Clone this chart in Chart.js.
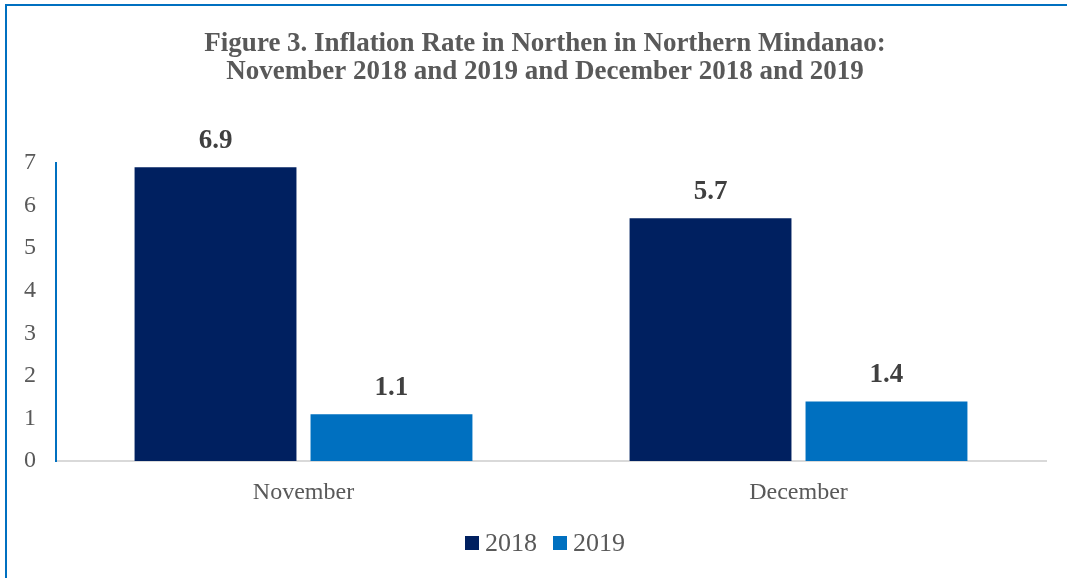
<!DOCTYPE html>
<html>
<head>
<meta charset="utf-8">
<script src="https://cdn.jsdelivr.net/npm/chart.js@4.4.1/dist/chart.umd.min.js"></script>
<style>
  html, body { margin: 0; padding: 0; background: #ffffff; }
  #wrap { position: relative; width: 1067px; height: 578px; }
</style>
</head>
<body>
<div id="wrap"><canvas id="c" width="1067" height="578"></canvas></div>
<script>
const categories = ["November", "December"];
const series2018 = [6.9, 5.7];
const series2019 = [1.1, 1.4];
const seriesNames = ["2018", "2019"];
const yTicks = [0, 1, 2, 3, 4, 5, 6, 7];
const titleLines = [
  "Figure 3. Inflation Rate in Northen in Northern Mindanao:",
  "November 2018 and 2019 and December 2018 and 2019"
];

const FONT = "'Liberation Serif', 'Times New Roman', serif";
const CENTER_X = 545;

const frameBorder = {
  id: 'frameBorder',
  beforeDraw(chart) {
    const ctx = chart.ctx;
    ctx.save();
    ctx.fillStyle = '#ffffff';
    ctx.fillRect(0, 0, chart.width, chart.height);
    ctx.strokeStyle = '#0070C0';
    ctx.lineWidth = 2;
    ctx.beginPath();
    ctx.moveTo(6, chart.height);
    ctx.lineTo(6, 5);
    ctx.lineTo(chart.width, 5);
    ctx.stroke();
    ctx.restore();
  }
};

const titleAndLegend = {
  id: 'titleAndLegend',
  afterDraw(chart) {
    const ctx = chart.ctx;
    ctx.save();
    // title
    ctx.font = "bold 27px " + FONT;
    ctx.fillStyle = '#595959';
    ctx.textAlign = 'center';
    ctx.textBaseline = 'middle';
    titleLines.forEach((t, i) => ctx.fillText(t, CENTER_X, 44 + i * 28));
    // legend
    ctx.font = "26px " + FONT;
    ctx.textAlign = 'left';
    const box = 14, gap = 6, spacing = 16, ly = 543;
    const items = chart.data.datasets.map(ds => ({
      text: ds.label, color: ds.backgroundColor, w: box + gap + ctx.measureText(ds.label).width
    }));
    const total = items.reduce((s, it) => s + it.w, 0) + spacing * (items.length - 1);
    let x = CENTER_X - total / 2;
    items.forEach(it => {
      ctx.fillStyle = it.color;
      ctx.fillRect(Math.round(x), ly - box / 2, box, box);
      ctx.fillStyle = '#595959';
      ctx.fillText(it.text, x + box + gap, ly + 1);
      x += it.w + spacing;
    });
    ctx.restore();
  }
};

const valueLabels = {
  id: 'valueLabels',
  afterDatasetsDraw(chart) {
    const ctx = chart.ctx;
    ctx.save();
    ctx.font = "bold 27px " + FONT;
    ctx.fillStyle = '#404040';
    ctx.textAlign = 'center';
    ctx.textBaseline = 'middle';
    chart.data.datasets.forEach((ds, i) => {
      const meta = chart.getDatasetMeta(i);
      meta.data.forEach((bar, j) => {
        ctx.fillText(Number(ds.data[j]).toFixed(1), bar.x, bar.y - 26);
      });
    });
    ctx.restore();
  }
};

new Chart(document.getElementById('c'), {
  type: 'bar',
  data: {
    labels: categories,
    datasets: [
      { label: seriesNames[0], data: series2018, backgroundColor: '#002060',
        categoryPercentage: 0.711, barPercentage: 0.92 },
      { label: seriesNames[1], data: series2019, backgroundColor: '#0070C0',
        categoryPercentage: 0.711, barPercentage: 0.92 }
    ]
  },
  options: {
    responsive: false,
    animation: false,
    devicePixelRatio: 1,
    layout: { padding: { left: 10, right: 21, top: 163, bottom: 57 } },
    plugins: {
      title: { display: false },
      legend: { display: false },
      tooltip: { enabled: false }
    },
    scales: {
      x: {
        grid: { display: false, drawTicks: false },
        border: { display: true, color: '#d9d9d9', width: 2 },
        ticks: { color: '#595959', font: { family: FONT, size: 24 }, padding: 17 },
        afterFit(scale) { scale.height = 60; }
      },
      y: {
        min: 0, max: 7,
        afterBuildTicks(scale) { scale.ticks = yTicks.map(v => ({ value: v })); },
        grid: { display: false, drawTicks: false },
        border: { display: true, color: '#0070C0', width: 2 },
        ticks: { color: '#595959', font: { family: FONT, size: 24 }, padding: 20 },
        afterFit(scale) { scale.width = 46; }
      }
    }
  },
  plugins: [frameBorder, valueLabels, titleAndLegend]
});
</script>
</body>
</html>
